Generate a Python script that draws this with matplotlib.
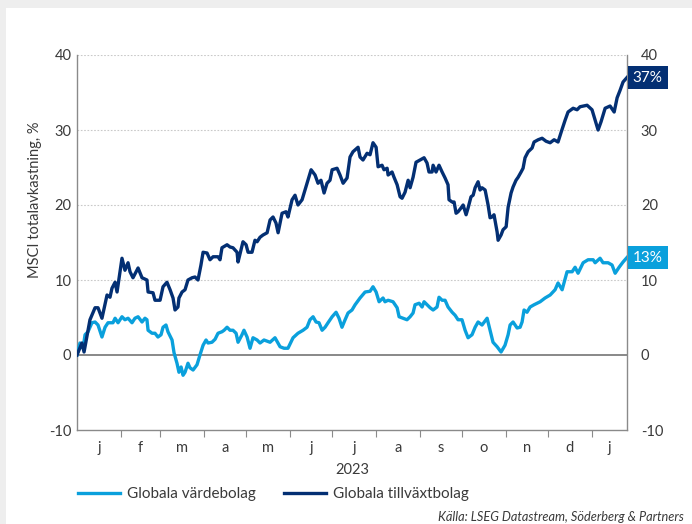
import numpy as np
import pandas as pd
import matplotlib
matplotlib.use("Agg")
import matplotlib.pyplot as plt
from matplotlib.patches import Rectangle

# ---------------- data (days since 2023-01-01, total return %) ----------------
growth_days = [0, 3.5, 5.0, 9.2, 12.8, 14.9, 17.7, 21.3, 23.4, 24.8, 27.0, 28.4, 31.9, 34.0, 36.2,
               37.6, 39.7, 43.3, 46.1, 49.6, 50.4, 53.9, 55.3, 58.9, 61.0, 63.8, 66.0, 68.1, 69.5,
               71.6, 72.3, 74.5, 76.6, 78.7, 81.6, 83.7, 85.8, 87.9, 89.4, 92.2, 94.3, 96.5, 100.0,
               101.4, 102.8, 106.4, 108.5, 110.6, 113.5, 114.2, 116.3, 117.7, 119.9, 121.3, 124.1,
               126.2, 127.7, 129.8, 131.9, 134.8, 136.9, 139.0, 141.1, 142.6, 145.4, 148.2, 149.6,
               151.1, 152.5, 154.6, 156.7, 159.6, 161.7, 163.8, 166.0, 168.8, 170.9, 173.0, 175.2,
               177.3, 179.4, 180.9, 184.4, 186.5, 188.7, 191.5, 193.6, 195.7, 199.3, 200.7, 202.8,
               205.7, 207.8, 209.9, 212.1, 213.5, 216.3, 217.7, 219.9, 220.6, 223.4, 224.8, 227.0,
               229.1, 230.5, 232.6, 234.8, 236.2, 238.3, 240.4, 243.3, 246.1, 248.2, 249.6, 251.8,
               252.5, 254.6, 256.7, 258.9, 261.0, 263.1, 263.8, 266.0, 267.4, 268.8, 270.2, 272.3,
               273.8, 275.9, 277.3, 279.4, 280.9, 282.3, 284.4, 285.8, 287.2, 289.4, 291.5, 292.9,
               294.3, 295.7, 297.9, 298.6, 300.7, 302.1, 304.3, 305.7, 307.8, 309.2, 311.3, 312.8,
               314.9, 316.3, 317.7, 319.9, 322.7, 324.1, 327.0, 329.8, 332.6, 335.5, 338.3, 341.1,
               343.3, 346.1, 348.2, 351.8, 354.6, 356.7, 361.7, 365.2, 367.4, 369.5, 371.6, 374.5,
               378.0, 380.9, 383.0, 385.1, 387.2, 390.0]
growth_vals = [0, 1.6, 0.4, 4.7, 6.3, 6.3, 4.9, 8.0, 7.7, 8.9, 9.7, 8.4, 12.9, 11.3, 12.3,
               11.1, 10.3, 11.6, 10.3, 10.0, 8.4, 8.3, 7.3, 7.3, 9.1, 9.7, 8.7, 7.6, 6.0,
               6.4, 7.6, 8.4, 8.7, 10.0, 10.3, 10.4, 10.0, 12.0, 13.7, 13.6, 12.7, 13.1, 13.1,
               12.7, 14.3, 14.7, 14.4, 14.3, 13.7, 12.4, 14.0, 15.1, 14.7, 13.7, 13.7,
               15.3, 15.1, 15.7, 16.0, 16.3, 18.0, 18.4, 17.6, 16.3, 18.9, 19.1, 18.4,
               19.6, 20.7, 21.3, 20.0, 20.7, 22.0, 23.3, 24.7, 24.0, 22.9, 23.3, 21.6,
               22.9, 23.3, 24.7, 24.9, 24.0, 22.9, 23.6, 26.4, 27.1, 27.7, 26.4, 26.0,
               26.9, 26.7, 28.3, 27.7, 25.1, 25.3, 24.7, 24.9, 24.0, 24.4, 23.7, 22.7,
               21.1, 20.9, 21.7, 23.3, 22.3, 23.7, 25.7, 26.0, 26.3, 25.6, 24.4, 24.4,
               25.3, 24.4, 25.3, 24.4, 23.6, 22.7, 20.7, 20.4, 20.4, 18.9, 19.1, 19.6,
               20.0, 18.7, 19.6, 21.1, 21.3, 22.3, 23.1, 22.0, 22.3, 22.0, 20.0, 18.3,
               18.4, 18.7, 16.4, 15.3, 16.0, 16.7, 17.1, 19.7, 21.6, 22.4, 23.3, 23.7,
               24.4, 24.9, 26.3, 27.1, 27.6, 28.4, 28.7, 28.9, 28.5, 28.3, 28.7, 28.4,
               29.7, 31.3, 32.4, 32.9, 32.7, 33.1, 33.3, 32.7, 31.3, 30.0, 31.1, 32.9,
               33.2, 32.4, 34.3, 35.3, 36.4, 37.0]

value_days = [0, 2.1, 4.3, 5.7, 7.8, 10.6, 12.8, 14.9, 17.7, 19.9, 22.0, 25.5, 27.0, 29.1, 31.9,
              34.0, 36.2, 39.0, 41.1, 43.3, 46.1, 48.2, 49.6, 50.4, 53.2, 55.3, 57.4, 59.6, 61.0,
              63.1, 64.5, 67.4, 68.8, 70.9, 72.3, 73.8, 75.2, 76.6, 78.7, 80.1, 82.3, 85.1, 87.2,
              89.4, 91.5, 92.9, 95.7, 97.9, 100.0, 102.8, 104.3, 106.4, 108.5, 110.6, 112.8, 114.2,
              117.0, 118.4, 120.6, 122.7, 124.8, 127.7, 129.8, 132.6, 136.9, 140.4, 144.0, 146.8,
              149.6, 153.2, 156.7, 160.3, 163.1, 165.2, 167.4, 169.5, 171.6, 173.8, 175.9, 178.0,
              180.9, 183.7, 185.8, 187.9, 190.1, 192.2, 195.0, 197.2, 200.7, 204.3, 207.8, 209.9,
              212.1, 214.2, 217.0, 218.4, 220.6, 224.1, 227.0, 228.4, 231.2, 234.0, 236.2, 238.3,
              239.7, 242.6, 244.7, 246.1, 248.2, 250.4, 252.5, 255.3, 256.7, 258.9, 261.0, 263.1,
              266.0, 268.1, 270.2, 273.0, 275.2, 277.3, 280.1, 282.3, 284.4, 287.2, 290.8, 292.9,
              295.0, 297.9, 300.7, 303.5, 305.7, 307.1, 309.2, 312.1, 314.2, 315.6, 317.0, 319.1,
              321.3, 324.1, 328.4, 331.9, 335.5, 339.0, 341.1, 344.0, 347.5, 351.1, 353.2, 355.3,
              358.9, 362.4, 366.0, 367.4, 370.9, 373.0, 376.6, 379.4, 381.6, 384.4, 387.2, 390.0]
value_vals = [0, 1.6, 0.9, 2.7, 3.1, 4.3, 4.4, 4.0, 2.4, 3.7, 4.3, 4.3, 4.9, 4.3, 5.1,
              4.7, 4.9, 4.3, 4.9, 5.1, 4.4, 4.9, 4.7, 3.3, 2.9, 2.9, 2.4, 2.7, 3.7,
              4.0, 3.1, 2.0, 0.3, -1.1, -2.3, -1.6, -2.7, -2.3, -1.1, -1.7, -2.0, -1.3, 0.0,
              1.3, 2.0, 1.6, 1.7, 2.1, 2.9, 3.1, 3.3, 3.7, 3.3, 3.3, 2.9, 1.7,
              2.7, 3.3, 2.4, 0.9, 2.3, 2.0, 1.6, 2.0, 1.7, 2.3, 1.1, 0.9,
              0.9, 2.3, 2.9, 3.3, 3.7, 4.7, 5.1, 4.4, 4.3, 3.3, 3.7, 4.3,
              5.1, 5.7, 4.9, 3.7, 4.7, 5.6, 6.0, 6.7, 7.6, 8.4, 8.5, 9.1,
              8.4, 7.1, 7.6, 7.1, 7.3, 7.1, 6.3, 5.1, 4.9, 4.7, 5.1, 5.6,
              6.7, 6.9, 6.4, 7.1, 6.7, 6.3, 6.0, 6.4, 7.7, 7.3, 7.3, 6.4,
              5.7, 5.3, 4.7, 4.7, 3.3, 2.3, 2.7, 3.7, 4.4, 4.0, 4.9, 3.3,
              1.7, 1.1, 0.4, 1.3, 2.7, 4.0, 4.4, 3.6, 3.7, 4.4, 6.0, 5.7,
              6.4, 6.7, 7.1, 7.6, 8.0, 8.7, 9.6, 8.7, 11.1, 11.1, 11.7, 10.9,
              12.3, 12.7, 12.7, 12.3, 12.9, 12.3, 12.3, 12.0, 10.9, 11.7, 12.4, 13.0]

series_names = ["Globala värdebolag", "Globala tillväxtbolag"]
end_labels = ["13%", "37%"]
month_labels = ["j", "f", "m", "a", "m", "j", "j", "a", "s", "o", "n", "d", "j"]
year_label = "2023"
y_ticks = [-10, 0, 10, 20, 30, 40]
ylabel = "MSCI totalavkastning, %"
source = "Källa: LSEG Datastream, Söderberg & Partners"

# ---------------- style ----------------
LIGHT = "#0AA0DC"
DARK = "#032F73"
TXT = "#3a3a3a"
GRID = "#c9c9c9"
AXC = "#8a8a8a"
plt.rcParams["font.family"] = ["Lato", "DejaVu Sans"]

W, H = 692, 524
fig = plt.figure(figsize=(W / 100, H / 100), dpi=100)
fig.patch.set_facecolor("white")
# light grey frame on top / left edge
fig.add_artist(Rectangle((0, 1 - 8 / H), 1, 8 / H, transform=fig.transFigure,
                         facecolor="#eeeeee", edgecolor="none", zorder=0))
fig.add_artist(Rectangle((0, 0), 6 / W, 1, transform=fig.transFigure,
                         facecolor="#eeeeee", edgecolor="none", zorder=0))

L, R, T, B = 77, 627, 55, 430
ax = fig.add_axes([L / W, 1 - B / H, (R - L) / W, (B - T) / H])
ax.set_facecolor("none")

start = pd.Timestamp("2023-01-01")
month_starts = pd.date_range("2023-01-01", "2024-01-01", freq="MS")
tick_days = [(d - start).days for d in month_starts]
xend = growth_days[-1]
edges = tick_days + [xend]
label_pos = [(edges[i] + edges[i + 1]) / 2 for i in range(len(month_labels))]

ax.set_xlim(0, xend)
ax.set_ylim(y_ticks[0], y_ticks[-1])

for yv in y_ticks[2:]:
    ax.axhline(yv, color=GRID, lw=0.8, ls=(0, (1.5, 1.5)), zorder=1)
ax.axhline(0, color="#7f7f7f", lw=1.3, zorder=2)

ax.plot(value_days, value_vals, color=LIGHT, lw=2.4, label=series_names[0], zorder=3,
        solid_joinstyle="round")
ax.plot(growth_days, growth_vals, color=DARK, lw=2.4, label=series_names[1], zorder=4,
        solid_joinstyle="round")

ax.spines["top"].set_visible(False)
for s in ["left", "right", "bottom"]:
    ax.spines[s].set_color(AXC)
    ax.spines[s].set_linewidth(1.0)

ax.set_xticks(tick_days[1:])
ax.set_xticklabels([])
ax.tick_params(axis="x", which="major", length=5, color=AXC, direction="out")
ax.set_xticks(label_pos, minor=True)
ax.set_xticklabels(month_labels, minor=True)
ax.tick_params(axis="x", which="minor", length=0, pad=8, labelsize=10.5, labelcolor=TXT)

ax.set_yticks(y_ticks)
ax.set_yticklabels([str(v) for v in y_ticks])
ax.tick_params(axis="y", length=0, pad=4, labelsize=10.5, labelcolor=TXT)

ax2 = ax.twinx()
ax2.set_ylim(ax.get_ylim())
ax2.set_yticks(y_ticks)
ax2.set_yticklabels([str(v) for v in y_ticks])
ax2.tick_params(axis="y", length=0, pad=10, labelsize=10.5, labelcolor=TXT)
for s in ax2.spines.values():
    s.set_visible(False)

fig.text(35 / W, 1 - 200 / H, ylabel, rotation=90, ha="center", va="center",
         fontsize=10.5, color=TXT)
fig.text((L + R) / 2 / W, 1 - 470 / H, year_label, ha="center", va="center",
         fontsize=10.5, color=TXT)

# end-value boxes
for val, lab, col in [(value_vals[-1], end_labels[0], LIGHT), (growth_vals[-1], end_labels[1], DARK)]:
    ax2.annotate(lab, xy=(1, val), xycoords=("axes fraction", "data"),
                 xytext=(4.2, 0), textcoords="offset points", ha="left", va="center",
                 fontsize=11, color="white",
                 bbox=dict(boxstyle="square,pad=0.32", fc=col, ec="none"))

handles, labels = ax.get_legend_handles_labels()
fig.legend(handles, labels, loc="center left", bbox_to_anchor=(78 / W, 1 - 494 / H),
           ncol=2, frameon=False, fontsize=11, handlelength=2.75, handletextpad=0.45,
           columnspacing=1.85, borderpad=0, borderaxespad=0, labelcolor=TXT)

fig.text(684 / W, 1 - 517 / H, source, ha="right", va="center", fontsize=9.2,
         style="italic", color=TXT)

fig.savefig("out.png", dpi=100)
